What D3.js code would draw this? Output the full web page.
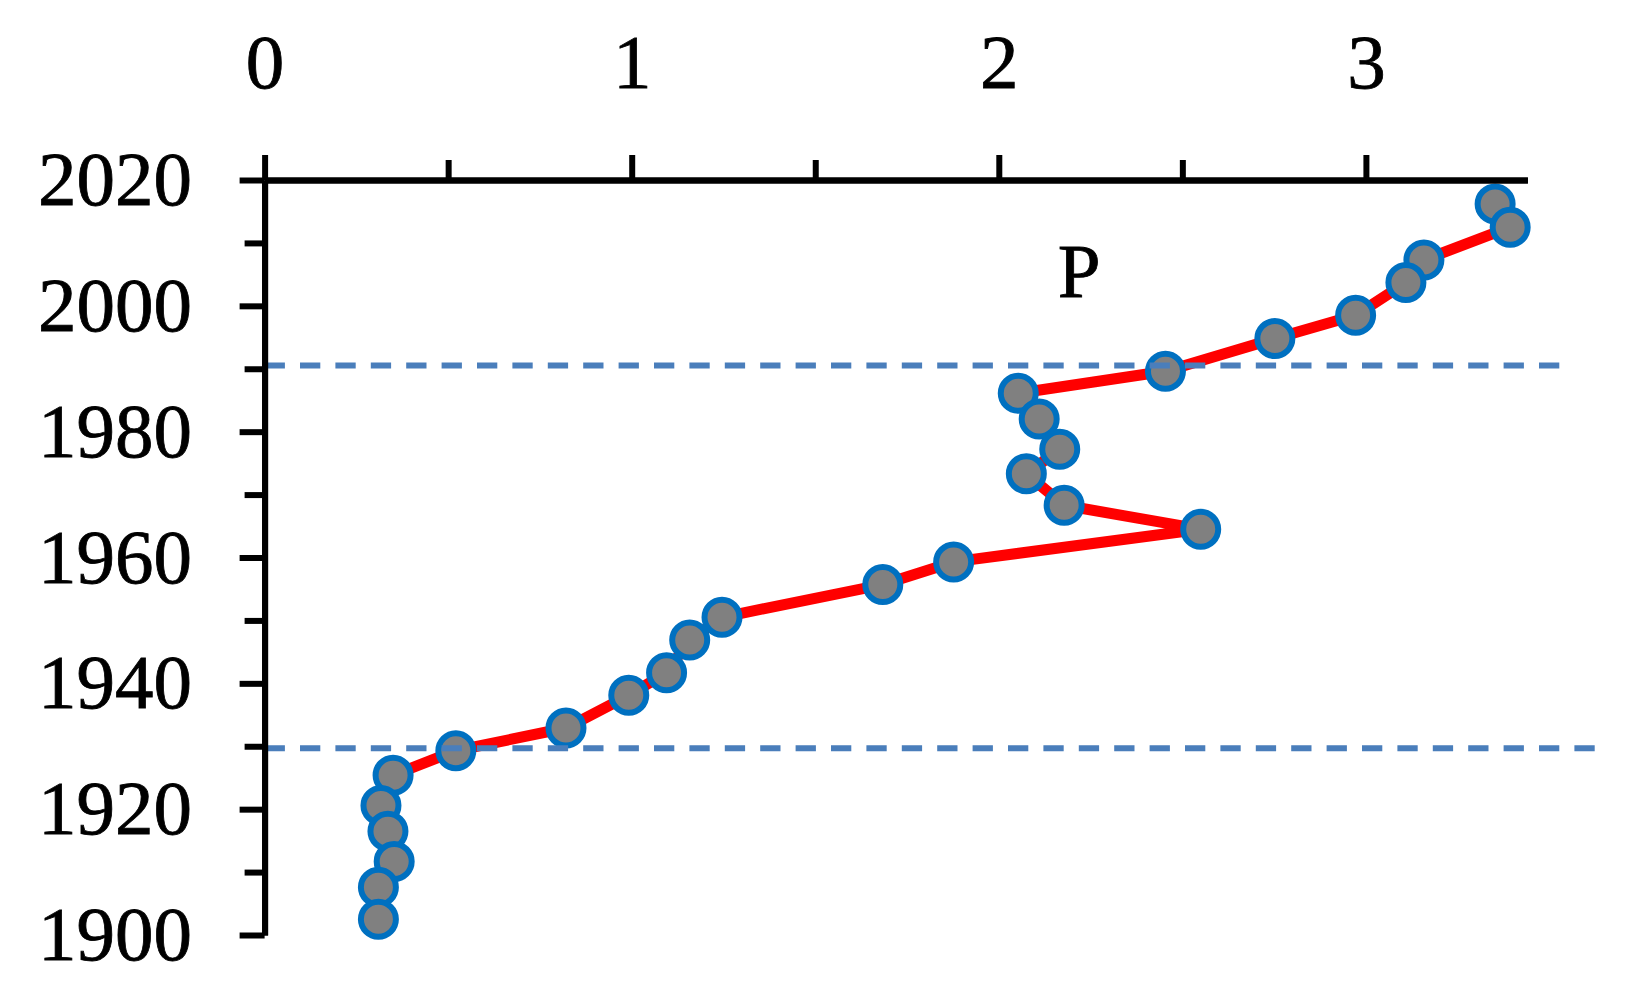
<!DOCTYPE html>
<html>
<head>
<meta charset="utf-8">
<script src="https://cdn.jsdelivr.net/npm/d3@7"></script>
<style>
  html, body { margin: 0; padding: 0; background: #ffffff; }
  svg { display: block; }
</style>
</head>
<body>
<svg id="chart" width="1640" height="1007"></svg>
<script>
// ---- data ----
const pValues = [3.352, 3.393, 3.158, 3.109, 2.972, 2.752, 2.454, 2.053, 2.110, 2.166, 2.075, 2.178, 2.550,
                 1.877, 1.684, 1.246, 1.158, 1.095, 0.992, 0.821, 0.521, 0.350, 0.317, 0.336, 0.353, 0.310, 0.310];
const years   = [2016.2, 2012.5, 2007.3, 2003.7, 1998.5, 1994.8, 1989.6, 1986.1, 1982.0, 1977.2, 1973.3, 1968.3, 1964.5,
                 1959.3, 1955.7, 1950.5, 1946.9, 1941.7, 1938.1, 1932.9, 1929.3, 1925.4, 1920.6, 1916.5, 1911.7, 1907.6, 1902.5];
const xMajorTicks = [0, 1, 2, 3];
const xMinorTicks = [0.5, 1.5, 2.5];
const yMajorTicks = [1900, 1920, 1940, 1960, 1980, 2000, 2020];
const yMinorTicks = [1910, 1930, 1950, 1970, 1990, 2010];
const refYears = [1990.5, 1929.7];
const refXEnds = [3.53, 3.63];
const seriesLabel = "P";
const xDomain = [0, 3.44];
const yDomain = [1900, 2020];

// ---- layout ----
const svg = d3.select("#chart");
const x = d3.scaleLinear().domain(xDomain).range([264.6, 264.6 + 3.44 * 367.1]);
const y = d3.scaleLinear().domain(yDomain).range([935, 180]);
const FONT = "'Liberation Serif', 'Times New Roman', serif";
const points = pValues.map((v, i) => ({ v, yr: years[i] }));

// red line
svg.append("path")
  .datum(points)
  .attr("fill", "none")
  .attr("stroke", "#ff0000")
  .attr("stroke-width", 11)
  .attr("stroke-linejoin", "round")
  .attr("d", d3.line().x(d => x(d.v)).y(d => y(d.yr)));

// markers
svg.append("g").selectAll("circle")
  .data(points)
  .join("circle")
  .attr("cx", d => x(d.v))
  .attr("cy", d => y(d.yr))
  .attr("r", 17.5)
  .attr("fill", "#808080")
  .attr("stroke", "#0070c0")
  .attr("stroke-width", 6);

// dashed reference lines
svg.append("g").selectAll("line")
  .data(refYears.map((yr, i) => ({ yr, xe: refXEnds[i] })))
  .join("line")
  .attr("x1", x(0))
  .attr("x2", d => x(d.xe))
  .attr("y1", d => y(d.yr))
  .attr("y2", d => y(d.yr))
  .attr("stroke", "#4a7ebb")
  .attr("stroke-width", 6)
  .attr("stroke-dasharray", "20.3 15.1");

// axes
function styleAxis(g) {
  g.selectAll("path.domain").attr("stroke", "#000").attr("stroke-width", 6);
  g.selectAll(".tick line").attr("stroke", "#000").attr("stroke-width", 6);
  g.selectAll(".tick text")
    .attr("fill", "#000")
    .attr("stroke", "#000")
    .attr("stroke-width", 0.8)
    .style("font-family", FONT)
    .style("font-size", "77px");
}

// x minor
svg.append("g")
  .attr("transform", `translate(0,${y(2020)})`)
  .call(d3.axisTop(x).tickValues(xMinorTicks).tickSize(20).tickSizeOuter(0).tickFormat(""))
  .call(styleAxis);
// x major
svg.append("g")
  .attr("transform", `translate(0,${y(2020)})`)
  .call(d3.axisTop(x).tickValues(xMajorTicks).tickSize(25).tickSizeOuter(0).tickPadding(67).tickFormat(d3.format("d")))
  .call(styleAxis);

// y minor
svg.append("g")
  .attr("transform", `translate(${x(0)},0)`)
  .call(d3.axisLeft(y).tickValues(yMinorTicks).tickSize(20).tickSizeOuter(0).tickFormat(""))
  .call(styleAxis);
// y major
svg.append("g")
  .attr("transform", `translate(${x(0)},0)`)
  .call(d3.axisLeft(y).tickValues(yMajorTicks).tickSize(25).tickSizeOuter(0).tickPadding(47.5).tickFormat(d3.format("d")))
  .call(styleAxis);

// series label
svg.append("text")
  .attr("x", x(2.219))
  .attr("y", y(2001.4))
  .attr("text-anchor", "middle")
  .attr("fill", "#000")
  .attr("stroke", "#000")
  .attr("stroke-width", 0.8)
  .style("font-family", FONT)
  .style("font-size", "77px")
  .text(seriesLabel);
</script>
</body>
</html>
